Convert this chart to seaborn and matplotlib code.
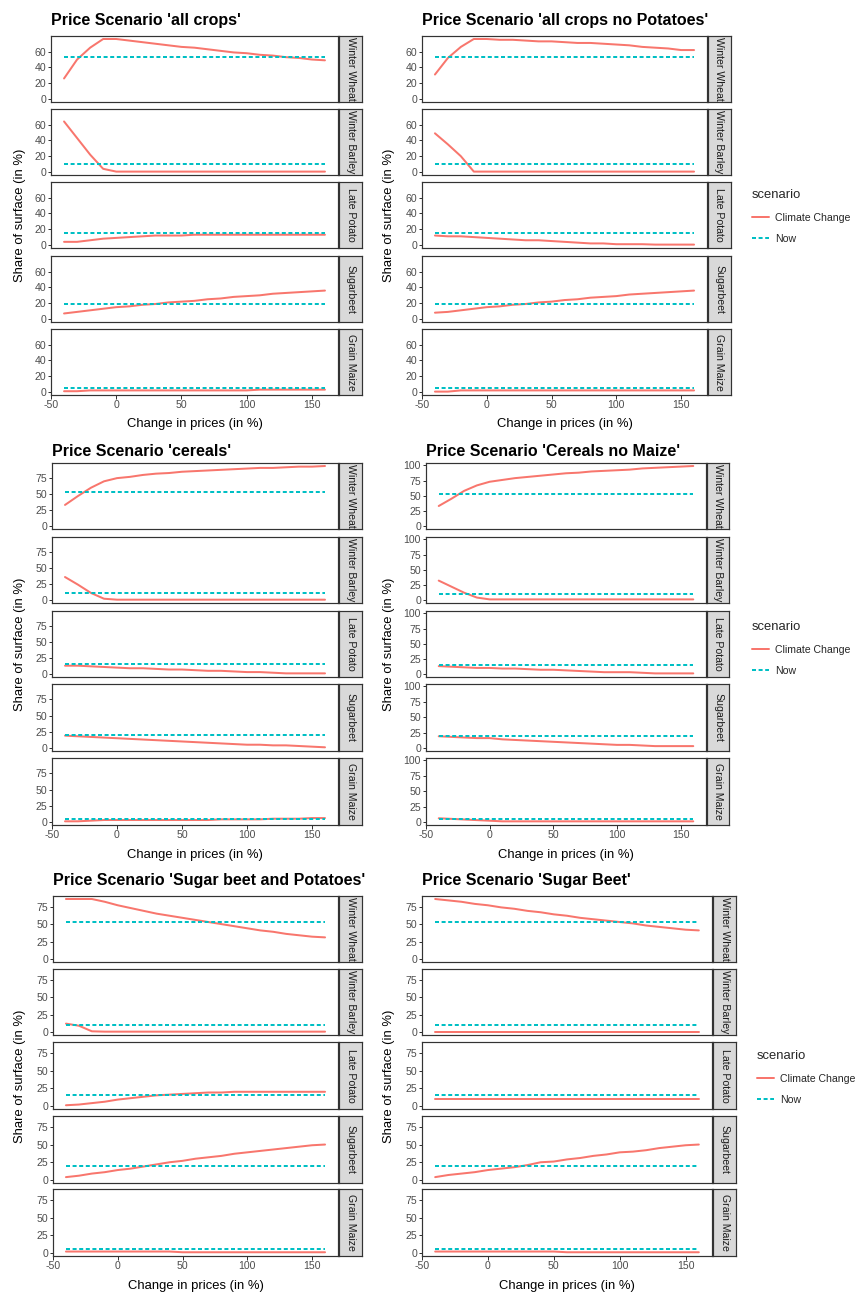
import numpy as np
import pandas as pd
import seaborn as sns
import matplotlib
matplotlib.use("Agg")
import matplotlib.pyplot as plt
from matplotlib.lines import Line2D

# ---------------- data ----------------
price = [-40, -30, -20, -10, 0, 10, 20, 30, 40, 50, 60, 70, 80, 90, 100, 110, 120, 130, 140, 150, 160]
crops = ["Winter Wheat", "Winter Barley", "Late Potato", "Sugarbeet", "Grain Maize"]
now_share = [53, 10.5, 15.5, 19.5, 5]
titles = ["Price Scenario 'all crops'", "Price Scenario 'all crops no Potatoes'",
          "Price Scenario 'cereals'", "Price Scenario 'Cereals no Maize'",
          "Price Scenario 'Sugar beet and Potatoes'", "Price Scenario 'Sugar Beet'"]

# scenario 1: all crops
s1_ww = [26, 50, 65, 76, 76, 74, 72, 70, 68, 66, 65, 63, 61, 59, 58, 56, 55, 53, 52, 50, 49]
s1_wb = [64, 43, 22, 4, 0.5, 0.5, 0.5, 0.5, 0.5, 0.5, 0.5, 0.5, 0.5, 0.5, 0.5, 0.5, 0.5, 0.5, 0.5, 0.5, 0.5]
s1_lp = [4, 4, 6, 8, 9, 10, 11, 12, 12, 12, 13, 13, 13, 13, 13, 13, 13, 13, 13, 13, 13]
s1_sb = [7, 9, 11, 13, 15, 16, 18, 19, 21, 22, 23, 25, 26, 28, 29, 30, 32, 33, 34, 35, 36]
s1_gm = [1, 1, 2, 2, 2, 2, 2, 2, 2, 2, 2, 2, 2, 2, 2, 3, 3, 3, 3, 3, 3]
# scenario 2: all crops no Potatoes
s2_ww = [31, 52, 66, 76, 76, 75, 75, 74, 73, 73, 72, 71, 71, 70, 69, 68, 66, 65, 64, 62, 62]
s2_wb = [49, 35, 20, 0.5, 0.5, 0.5, 0.5, 0.5, 0.5, 0.5, 0.5, 0.5, 0.5, 0.5, 0.5, 0.5, 0.5, 0.5, 0.5, 0.5, 0.5]
s2_lp = [12, 11, 11, 10, 9, 8, 7, 6, 6, 5, 4, 3, 2, 2, 1, 1, 1, 0.5, 0.5, 0.5, 0.5]
s2_sb = [8, 9, 11, 13, 15, 16, 18, 19, 21, 22, 24, 25, 27, 28, 29, 31, 32, 33, 34, 35, 36]
s2_gm = [0.5, 0.5, 2, 2, 2, 2, 2, 2, 2, 2, 2, 2, 2, 2, 2, 2, 2, 2, 2, 2, 2]
# scenario 3: cereals
s3_ww = [33, 47, 60, 70, 75, 77, 80, 82, 83, 85, 86, 87, 88, 89, 90, 91, 91, 92, 93, 93, 94]
s3_wb = [36, 24, 11, 2, 0.5, 0.5, 0.5, 0.5, 0.5, 0.5, 0.5, 0.5, 0.5, 0.5, 0.5, 0.5, 0.5, 0.5, 0.5, 0.5, 0.5]
s3_lp = [13, 13, 12, 11, 10, 9, 9, 8, 7, 7, 6, 5, 5, 4, 3, 3, 2, 1, 1, 1, 1]
s3_sb = [19, 18, 17, 16, 15, 14, 13, 12, 11, 10, 9, 8, 7, 6, 5, 5, 4, 4, 3, 2, 1]
s3_gm = [1, 1, 2, 3, 3, 3, 3, 3, 3, 3, 3, 3, 4, 4, 4, 4, 5, 5, 5, 6, 6]
# scenario 4: Cereals no Maize
s4_ww = [33, 45, 58, 67, 73, 76, 79, 81, 83, 85, 87, 88, 90, 91, 92, 93, 95, 96, 97, 98, 99]
s4_wb = [32, 22, 12, 4, 1, 1, 1, 1, 1, 1, 1, 1, 1, 1, 1, 1, 1, 1, 1, 1, 1]
s4_lp = [13, 12, 11, 10, 10, 9, 9, 8, 7, 7, 6, 5, 4, 3, 3, 3, 2, 1, 1, 1, 1]
s4_sb = [19, 18, 17, 16, 16, 14, 13, 12, 11, 10, 9, 8, 7, 6, 5, 5, 4, 3, 3, 3, 3]
s4_gm = [6, 5, 4, 3, 2, 1, 1, 1, 1, 1, 1, 1, 1, 1, 1, 1, 1, 1, 1, 1, 1]
# scenario 5: Sugar beet and Potatoes
s5_ww = [86, 86, 86, 82, 77, 73, 69, 65, 62, 59, 56, 53, 50, 47, 44, 41, 39, 36, 34, 32, 31]
s5_wb = [12, 9, 1, 0.5, 0.5, 0.5, 0.5, 0.5, 0.5, 0.5, 0.5, 0.5, 0.5, 0.5, 0.5, 0.5, 0.5, 0.5, 0.5, 0.5, 0.5]
s5_lp = [1, 2, 4, 6, 9, 11, 13, 15, 16, 17, 18, 19, 19, 20, 20, 20, 20, 20, 20, 20, 20]
s5_sb = [4, 6, 9, 11, 14, 16, 19, 22, 25, 27, 30, 32, 34, 37, 39, 41, 43, 45, 47, 49, 50]
s5_gm = [2, 2, 2, 2, 2, 2, 2, 2, 2, 1, 1, 1, 1, 1, 1, 1, 1, 1, 1, 1, 1]
# scenario 6: Sugar Beet
s6_ww = [86, 84, 82, 79, 77, 74, 72, 69, 67, 64, 62, 59, 57, 55, 53, 51, 48, 46, 44, 42, 41]
s6_wb = [0.5] * 21
s6_lp = [10] * 21
s6_sb = [4, 7, 9, 11, 14, 16, 18, 21, 25, 26, 29, 31, 34, 36, 39, 40, 42, 45, 47, 49, 50]
s6_gm = [2, 2, 2, 2, 2, 2, 2, 2, 2, 2, 1, 1, 1, 1, 1, 1, 1, 1, 1, 1, 1]

scenario_series = [
    [s1_ww, s1_wb, s1_lp, s1_sb, s1_gm],
    [s2_ww, s2_wb, s2_lp, s2_sb, s2_gm],
    [s3_ww, s3_wb, s3_lp, s3_sb, s3_gm],
    [s4_ww, s4_wb, s4_lp, s4_sb, s4_gm],
    [s5_ww, s5_wb, s5_lp, s5_sb, s5_gm],
    [s6_ww, s6_wb, s6_lp, s6_sb, s6_gm],
]
y_ticks = [[0, 20, 40, 60], [0, 20, 40, 60], [0, 25, 50, 75], [0, 25, 50, 75, 100],
           [0, 25, 50, 75], [0, 25, 50, 75]]
x_ticks = [-50, 0, 50, 100, 150]

# ---------------- style ----------------
sns.set_theme(style="white")
plt.rcParams["font.family"] = ["Liberation Sans", "DejaVu Sans"]
plt.rcParams["axes.unicode_minus"] = False

W, H = 858, 1296
DPI = 72
fig = plt.figure(figsize=(W / DPI, H / DPI), dpi=DPI)

def rect(x0, y0, x1, y1):
    return [x0 / W, 1 - y1 / H, (x1 - x0) / W, (y1 - y0) / H]

rows_y = [
    [(36, 102), (109, 175), (182, 248), (256, 322), (329, 395)],
    [(463, 529), (537, 603), (611, 677), (684, 751), (758, 825)],
    [(896, 962), (969, 1035), (1042, 1109), (1116, 1183), (1189, 1256)],
]
cols_x = [(51, 338, 339, 362), (422, 707, 708, 731),
          (52, 338, 339, 362), (426, 706, 707, 729),
          (53, 338, 339, 362), (422, 712, 713, 736)]
title_y = [20, 451, 881]
xlab_y = [424, 855, 1286]
ylab_x = [20, 389, 20, 389, 20, 389]
legend_pos = [(752, 189), (752, 621), (757, 1050)]

TICK = 10.5
AXT = 13
TITLE = 16

palette = {"Climate Change": "#F8766D", "Now": "#00BFC4"}
dashes = {"Climate Change": "", "Now": (2.0, 1.3)}
LW = 2.0
border = "#333333"

for p in range(6):
    r = p // 2
    x0, x1, sx0, sx1 = cols_x[p]
    series = scenario_series[p]
    R = max(max(s) for s in series)
    records = []
    for ci, crop in enumerate(crops):
        for xv, yv in zip(price, series[ci]):
            records.append((crop, xv, yv, "Climate Change"))
            records.append((crop, xv, now_share[ci], "Now"))
    df = pd.DataFrame(records, columns=["crop", "price", "share", "scenario"])

    for ci, crop in enumerate(crops):
        y0, y1 = rows_y[r][ci]
        ax = fig.add_axes(rect(x0, y0, x1, y1))
        sub = df[df["crop"] == crop]
        sns.lineplot(data=sub, x="price", y="share", hue="scenario", style="scenario",
                     hue_order=["Climate Change", "Now"], palette=palette, dashes=dashes,
                     linewidth=LW, ax=ax, legend=False)
        ax.set_xlim(-50, 170)
        ax.set_ylim(-0.05 * R, 1.05 * R)
        ax.set_yticks(y_ticks[p])
        ax.set_xticks(x_ticks)
        ax.set_xlabel("")
        ax.set_ylabel("")
        ax.grid(False)
        for s in ax.spines.values():
            s.set_color(border)
            s.set_linewidth(1.2)
        ax.tick_params(axis="y", length=3.5, width=1.0, color=border, labelsize=TICK,
                       labelcolor="#4D4D4D", pad=1.5, left=True)
        if ci == 4:
            ax.tick_params(axis="x", length=3.5, width=1.0, color=border, labelsize=TICK,
                           labelcolor="#4D4D4D", pad=1.5, bottom=True)
        else:
            ax.tick_params(axis="x", bottom=False, labelbottom=False)
        # strip
        sax = fig.add_axes(rect(sx0, y0, sx1, y1))
        sax.set_facecolor("#D9D9D9")
        sax.set_xticks([])
        sax.set_yticks([])
        for s in sax.spines.values():
            s.set_color(border)
            s.set_linewidth(1.2)
        sax.text(0.5, 0.5, crop, rotation=-90, ha="center", va="center",
                 fontsize=TICK, color="#1A1A1A", transform=sax.transAxes, clip_on=True)

    # titles and axis labels
    fig.text(x0 / W, 1 - title_y[r] / H, titles[p], fontsize=TITLE, fontweight="bold",
             ha="left", va="center", color="black")
    xc = (x0 + x1) / 2
    fig.text(xc / W, 1 - xlab_y[r] / H, "Change in prices (in %)", fontsize=AXT,
             ha="center", va="center", color="black")
    ymid = (rows_y[r][0][0] + rows_y[r][4][1]) / 2
    fig.text(ylab_x[p] / W, 1 - ymid / H, "Share of surface (in %)", fontsize=AXT,
             rotation=90, ha="center", va="center", color="black")

# legends
for r in range(3):
    lx, ly = legend_pos[r]
    handles = [Line2D([], [], color=palette["Climate Change"], lw=LW),
               Line2D([], [], color=palette["Now"], lw=LW, dashes=(2.0, 1.3))]
    fig.legend(handles, ["Climate Change", "Now"], title="scenario",
               loc="upper left", bbox_to_anchor=(lx / W, 1 - ly / H),
               frameon=False, fontsize=TICK, title_fontsize=AXT, alignment="left",
               handlelength=1.6, handletextpad=0.6, labelspacing=1.1,
               borderaxespad=0, borderpad=0)

fig.savefig("out.png", dpi=DPI)
